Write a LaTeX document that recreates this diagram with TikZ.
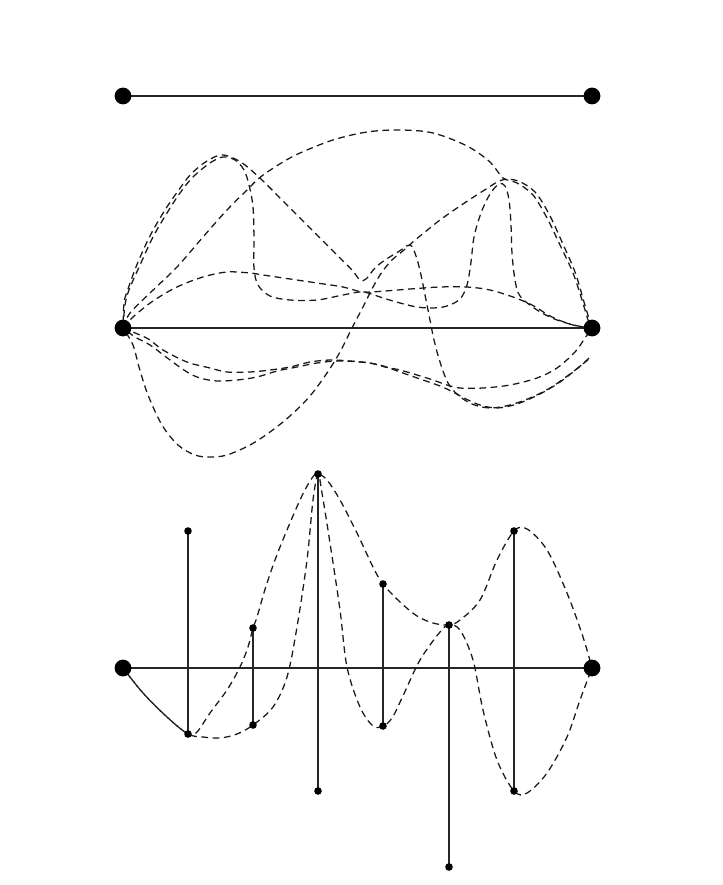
\documentclass[tikz,border=0pt]{standalone}
\begin{document}
\begin{tikzpicture}[x=0.025cm,y=-0.025cm,
  bigdot/.style={circle,fill=black,inner sep=0pt,minimum size=0.42cm},
  smalldot/.style={circle,fill=black,inner sep=0pt,minimum size=0.19cm},
  axisline/.style={line width=1pt,black!85},
  stemline/.style={line width=1.3pt,black!85},
  wave/.style={line width=0.9pt,black!90,dash pattern=on 4.8pt off 3.2pt},
  wavetwo/.style={wave,dash phase=4pt}]
\fill[white] (0,0) rectangle (722,885);
\useasboundingbox (0,0) rectangle (722,885);
% --- top ---
\coordinate (TL) at (123,96);
\coordinate (TR) at (592,96);
\draw[axisline] (TL) -- (TR);
\node[bigdot] (tl) at (TL) {};
\node[bigdot] (tr) at (TR) {};
% --- middle ---
\coordinate (ML) at (123,328);
\coordinate (MR) at (592,328);
\draw[axisline] (ML) -- (MR);
\draw[wave] plot[smooth,tension=0.55] coordinates {(ML) (125,305) (129,290) (140,265) (153,237) (167,213) (180,193) (193,177) (210,163) (223,157) (235,160) (244,170) (249,185) (253,207) (254,240) (254,268) (258,285) (270,296) (290,300) (317,300) (343,295) (363,292) (383,298) (400,303) (417,307) (433,308) (447,306) (460,299) (467,285) (471,262) (474,237) (481,213) (490,194) (499,184) (505,186) (509,200) (511,225) (512,253) (515,280) (520,296) (537,310) (557,320) (578,326) (MR)};
\draw[wavetwo] plot[smooth,tension=0.55] coordinates {(ML) (124,303) (128,289) (138,262) (151,234) (165,210) (178,191) (191,174) (207,161) (221,155) (233,158) (245,165) (262,180) (283,201) (310,228) (337,255) (352,270) (360,280) (366,279) (375,268) (385,260) (398,252) (410,245) (416,256) (421,275) (425,295) (429,315) (434,340) (440,362) (448,383) (458,395) (472,404) (490,408) (510,405) (530,398) (550,388) (570,374) (589,359)};
\draw[wave] plot[smooth,tension=0.55] coordinates {(ML) (130,313) (150,293) (177,267) (203,237) (227,210) (247,190) (257,180) (266,173) (283,162) (300,153) (333,140) (367,132) (400,130) (433,133) (467,146) (490,162) (503,178) (517,183) (533,195) (547,218) (560,245) (573,273) (582,300) (588,320) (MR)};
\draw[wavetwo] plot[smooth,tension=0.55] coordinates {(ML) (133,345) (139,367) (148,395) (162,425) (178,445) (195,455) (210,457) (227,455) (250,445) (270,432) (290,416) (310,396) (327,373) (340,352) (352,328) (363,307) (373,287) (382,272) (392,260) (404,250) (414,241) (425,232) (440,220) (460,206) (483,191) (502,180) (518,181) (535,192) (549,214) (562,242) (575,272) (584,302) (590,322) (MR)};
\draw[wave] plot[smooth,tension=0.55] coordinates {(ML) (133,317) (153,301) (177,287) (203,277) (227,272) (250,273) (263,275) (290,279) (317,283) (343,287) (363,292) (385,291) (410,289) (440,287) (467,287) (490,290) (513,297) (532,305) (552,317) (573,325) (MR)};
\draw[wave] plot[smooth,tension=0.55] coordinates {(ML) (140,335) (150,340) (163,350) (187,362) (210,368) (227,372) (250,372) (270,370) (290,367) (310,362) (330,360) (350,361) (370,363) (385,367) (400,370) (417,375) (433,380) (447,385) (460,388) (483,388) (510,385) (537,378) (557,368) (575,352) (585,338) (MR)};
\draw[wavetwo] plot[smooth,tension=0.55] coordinates {(ML) (135,337) (150,345) (170,360) (187,372) (200,378) (217,381) (237,380) (257,377) (277,371) (297,367) (317,363) (337,361) (360,362) (380,365) (400,372) (420,379) (440,386) (453,392) (466,399) (480,405) (497,408) (517,404) (540,394) (560,382) (578,368) (589,358)};
\node[bigdot] (ml) at (ML) {};
\node[bigdot] (mr) at (MR) {};
% --- bottom ---
\coordinate (BL) at (123,668);
\coordinate (BR) at (592,668);
\coordinate (s1t) at (188,531); \coordinate (s1b) at (188,734);
\coordinate (s2t) at (253,628); \coordinate (s2b) at (253,725);
\coordinate (s3t) at (318,474); \coordinate (s3b) at (318,791);
\coordinate (s4t) at (383,584); \coordinate (s4b) at (383,726);
\coordinate (s5t) at (449,625); \coordinate (s5b) at (449,867);
\coordinate (s6t) at (514,531); \coordinate (s6b) at (514,791);
\draw[axisline] (BL) -- (BR);
\foreach \i in {1,...,6} { \draw[stemline] (s\i t) -- (s\i b); }
\draw[wave] plot[smooth,tension=0.55] coordinates {(BL) (143,693) (167,717) (s1b) (197,732) (210,713) (227,690) (240,667) (248,647) (s2t) (257,617) (267,583) (280,547) (300,500) (312,478) (s3t) (327,480) (340,500) (357,533) (373,567) (s4t) (400,602) (417,616) (433,623) (s5t) (460,620) (480,600) (497,560) (s6t) (527,529) (547,550) (567,593) (583,637) (BR)};
\draw[wavetwo] plot[smooth,tension=0.55] coordinates {(BL) (143,693) (167,717) (s1b) (203,737) (220,738) (237,734) (s2b) (273,707) (287,677) (297,627) (307,560) (313,500) (s3t) (322,493) (330,543) (340,610) (347,667) (360,707) (373,726) (s4b) (392,718) (402,698) (420,660) (440,632) (s5t) (460,630) (473,660) (483,710) (497,760) (s6b) (527,793) (547,773) (567,737) (580,700) (BR)};
\node[bigdot] (bl) at (BL) {};
\node[bigdot] (br) at (BR) {};
\foreach \i in {1,...,6} { \node[smalldot] (n\i t) at (s\i t) {}; \node[smalldot] (n\i b) at (s\i b) {}; }
\end{tikzpicture}
\end{document}
